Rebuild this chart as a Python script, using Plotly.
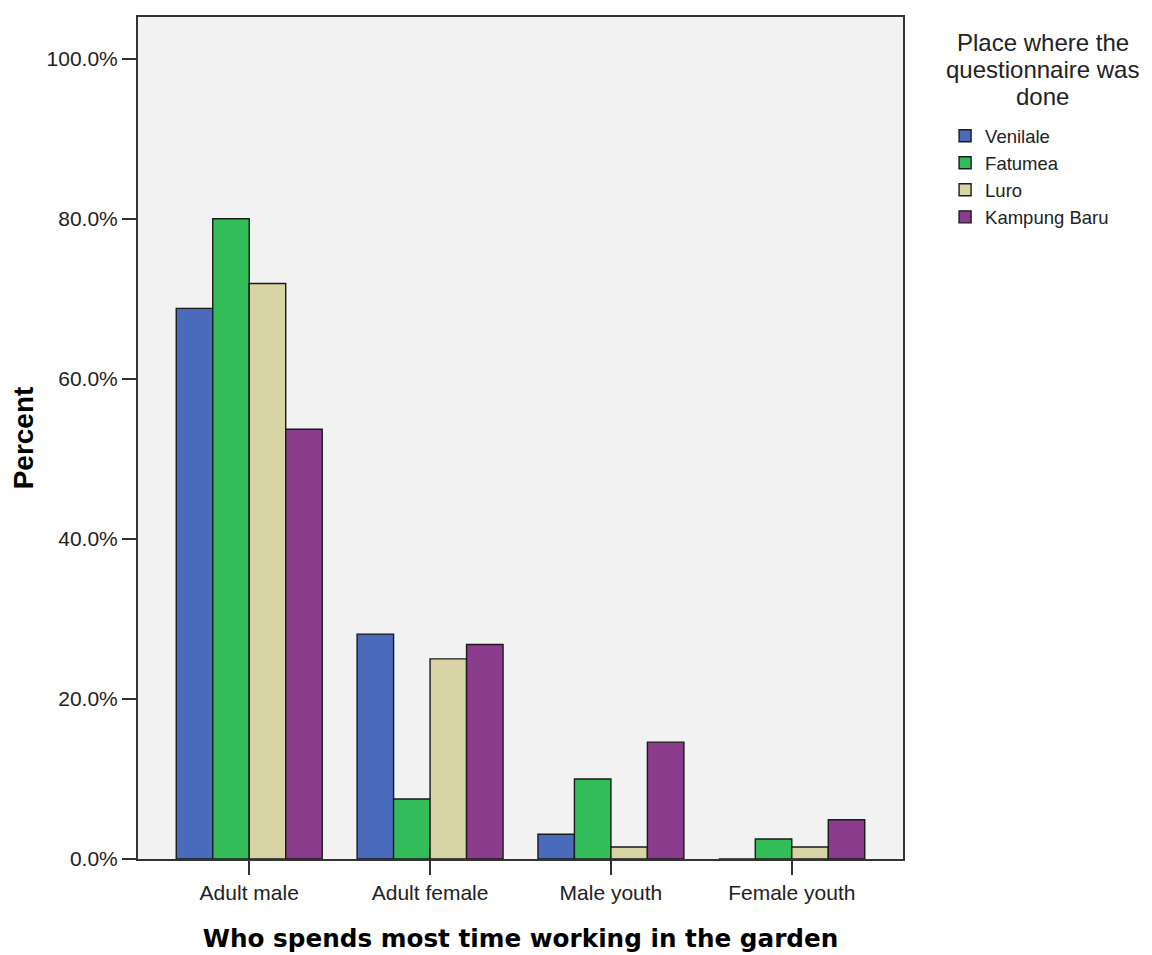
import plotly.graph_objects as go

categories = ["Adult male", "Adult female", "Male youth", "Female youth"]
series_names = ["Venilale", "Fatumea", "Luro", "Kampung Baru"]
venilale = [68.8, 28.1, 3.1, 0.0]
fatumea = [80.0, 7.5, 10.0, 2.5]
luro = [71.9, 25.0, 1.5, 1.5]
kampung_baru = [53.7, 26.8, 14.6, 4.9]
y_tick_vals = [0, 20, 40, 60, 80, 100]
y_tick_text = ["0.0%", "20.0%", "40.0%", "60.0%", "80.0%", "100.0%"]
legend_title_lines = ["Place where the", "questionnaire was", "done"]

colors = ["#4a6abb", "#33bd59", "#d8d4a6", "#8b3c8d"]
values = [venilale, fatumea, luro, kampung_baru]

fig = go.Figure()
for name, vals, col in zip(series_names, values, colors):
    fig.add_trace(go.Bar(
        x=categories, y=vals, name=name,
        marker=dict(color=col, line=dict(color="#1a1a1a", width=1.4)),
    ))

FONT = "Liberation Sans, Arial, sans-serif"

# legend title drawn as centred lines
for i, line in enumerate(legend_title_lines):
    fig.add_annotation(
        text=line, xref="paper", yref="paper",
        x=1.183, y=0.9695 - i * 0.0318, xanchor="center", yanchor="middle",
        showarrow=False, font=dict(size=24, family=FONT, color="#222"),
    )

fig.update_layout(
    width=1144, height=947,
    margin=dict(l=129, r=249, t=7, b=92),
    paper_bgcolor="white",
    plot_bgcolor="#f2f2f2",
    barmode="group",
    bargap=0.193,
    bargroupgap=0,
    font=dict(family=FONT, size=20, color="#222"),
    legend=dict(
        x=1.055, xanchor="left", y=0.881, yanchor="top",
        font=dict(size=18.5, family=FONT, color="#222"),
        bgcolor="rgba(0,0,0,0)",
        tracegroupgap=0,
    ),
    xaxis=dict(
        range=[-0.615, 3.615],
        showline=True, mirror=True, linecolor="#333", linewidth=2,
        ticks="outside", ticklen=14, tickcolor="#333", tickwidth=2,
        tickfont=dict(size=21, family=FONT, color="#222"),
        title=dict(text="<b>Who spends most time working in the garden</b>",
                   font=dict(size=24.7, family="DejaVu Sans, sans-serif", color="black"),
                   standoff=27),
        showgrid=False, zeroline=False,
    ),
    yaxis=dict(
        range=[0, 105.2],
        tickvals=y_tick_vals, ticktext=y_tick_text,
        showline=True, mirror=True, linecolor="#333", linewidth=2,
        ticks="outside", ticklen=14, tickcolor="#333", tickwidth=2,
        tickfont=dict(size=21, family=FONT, color="#222"),
        title=dict(text="<b>Percent</b>",
                   font=dict(size=28, family=FONT, color="black"),
                   standoff=12),
        showgrid=False, zeroline=False,
    ),
)

fig.write_html("out.html")
